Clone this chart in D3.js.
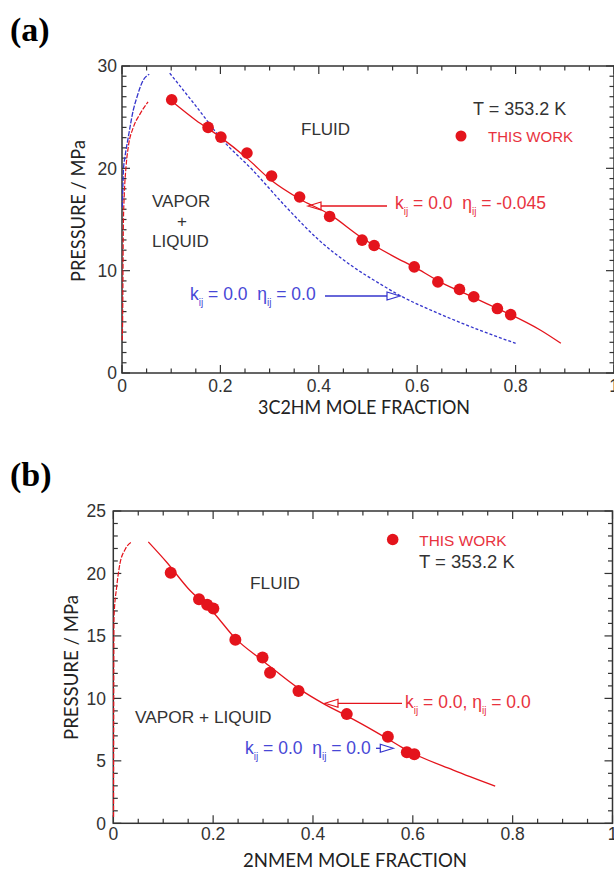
<!DOCTYPE html>
<html>
<head>
<meta charset="utf-8">
<script src="https://cdn.jsdelivr.net/npm/d3@7"></script>
<style>
  html, body { margin: 0; padding: 0; background: #fff; }
  svg { display: block; }
  text { white-space: pre; }
</style>
</head>
<body>
<svg id="chart" width="614" height="870"></svg>
<script>
// ---------- DATA ----------
const xTickValues = [0, 0.2, 0.4, 0.6, 0.8, 1];
const xTickLabels = ["0", "0.2", "0.4", "0.6", "0.8", "1"];
const yTicksA = [0, 10, 20, 30];
const yTicksB = [0, 5, 10, 15, 20, 25];

// Panel (a): 3C2HM, T = 353.2 K
const expA_x = [0.101, 0.175, 0.201, 0.254, 0.304, 0.361, 0.422, 0.488, 0.5125, 0.594, 0.642, 0.686, 0.715, 0.763, 0.790];
const expA_p = [26.7, 24.0, 23.05, 21.5, 19.25, 17.2, 15.3, 12.98, 12.46, 10.37, 8.9, 8.17, 7.45, 6.3, 5.7];

// red model (eta = -0.045), dew and bubble branches
const redA_dew_x = [0.0005, 0.0013, 0.0027, 0.0047, 0.0081, 0.0128, 0.023, 0.0365, 0.053];
const redA_dew_p = [3.2, 5.2, 14.3, 17.5, 20.1, 22.1, 24.0, 25.3, 26.5];
const redA_bub_x = [0.1, 0.15, 0.2, 0.256, 0.304, 0.361, 0.422, 0.488, 0.55, 0.6, 0.65, 0.7, 0.763, 0.79, 0.85, 0.892];
const redA_bub_p = [26.6, 24.7, 23.05, 20.9, 18.8, 17.0, 15.5, 13.2, 11.45, 10.2, 8.8, 7.7, 6.3, 5.7, 4.2, 2.9];

// blue model (eta = 0.0)
const blueA_dew_x = [0.0008, 0.003, 0.006, 0.0128, 0.023, 0.03, 0.043, 0.0554];
const blueA_dew_p = [16.2, 19.9, 21.1, 23.05, 25.7, 26.9, 28.6, 29.2];
const blueA_bub_x = [0.097, 0.15, 0.2, 0.266, 0.334, 0.40, 0.469, 0.523, 0.564, 0.659, 0.726, 0.80];
const blueA_bub_p = [29.3, 26.1, 23.0, 19.8, 16.2, 13.0, 10.4, 8.75, 7.6, 5.5, 4.2, 2.9];

// Panel (b): 2NMEM, T = 353.2 K
const expB_x = [0.115, 0.1717, 0.188, 0.2004, 0.2445, 0.299, 0.314, 0.371, 0.4677, 0.55, 0.588, 0.603];
const expB_p = [20.05, 17.94, 17.5, 17.2, 14.7, 13.28, 12.05, 10.6, 8.74, 6.93, 5.68, 5.52];

const redB_dew_x = [0.0005, 0.001, 0.0014, 0.0067, 0.0134, 0.0234, 0.0369];
const redB_dew_p = [0.5, 12.5, 16.5, 18.9, 20.8, 21.9, 22.53];
const redB_bub_x = [0.0701, 0.107, 0.15, 0.2, 0.2445, 0.3, 0.3747, 0.42, 0.4677, 0.5, 0.55, 0.588, 0.681, 0.765];
const redB_bub_p = [22.53, 20.9, 18.8, 16.9, 14.8, 13.0, 10.7, 9.6, 8.6, 7.9, 6.75, 5.85, 4.26, 2.98];

// ---------- STYLE ----------
const RED = "#e4141c", RED_TXT = "#e8323e", BLUE = "#3434cc", BLUE_TXT = "#4747d6";
const INK = "#333", SANS = "'Liberation Sans', Arial, sans-serif", TITLE = "Lato, 'Open Sans', sans-serif";

const svg = d3.select("#chart");
const zip = (xs, ys) => xs.map((x, i) => [x, ys[i]]);

function panel(cfg) {
  const g = svg.append("g");
  const x = d3.scaleLinear().domain([0, 1]).range(cfg.xr);
  const y = d3.scaleLinear().domain(cfg.yd).range(cfg.yr);
  const [x0, x1] = cfg.xr, [y0, y1] = cfg.yr; // y0 bottom, y1 top

  // minor / major ticks inward on all sides
  const xMinor = d3.range(0, 1.0001, 0.05);
  const yMinor = d3.range(cfg.yd[0], cfg.yd[1] + 0.001, 1);
  const ticks = g.append("g").attr("stroke", INK).attr("stroke-width", 1.2);
  xMinor.forEach(v => {
    const major = xTickValues.some(t => Math.abs(t - v) < 1e-6);
    const L = major ? 8 : 4.5;
    ticks.append("line").attr("x1", x(v)).attr("x2", x(v)).attr("y1", y0).attr("y2", y0 - L);
    ticks.append("line").attr("x1", x(v)).attr("x2", x(v)).attr("y1", y1).attr("y2", y1 + L);
  });
  yMinor.forEach(v => {
    const major = cfg.yTicks.includes(Math.round(v));
    const L = major ? 8 : 4.5;
    ticks.append("line").attr("y1", y(v)).attr("y2", y(v)).attr("x1", x0).attr("x2", x0 + L);
    ticks.append("line").attr("y1", y(v)).attr("y2", y(v)).attr("x1", x1).attr("x2", x1 - L);
  });
  g.append("rect").attr("x", x0).attr("y", y1).attr("width", x1 - x0).attr("height", y0 - y1)
    .attr("fill", "none").attr("stroke", INK).attr("stroke-width", 1.5);

  // tick labels
  g.append("g").selectAll("text").data(xTickValues).join("text")
    .attr("x", d => x(d)).attr("y", cfg.xLabBase).attr("text-anchor", "middle")
    .attr("font-family", SANS).attr("font-size", 17.5).attr("fill", INK)
    .text((d, i) => xTickLabels[i]);
  g.append("g").selectAll("text").data(cfg.yTicks).join("text")
    .attr("x", cfg.yLabRight).attr("y", d => y(d)).attr("dy", "0.36em").attr("text-anchor", "end")
    .attr("font-family", SANS).attr("font-size", 17.5).attr("fill", INK)
    .text(d => d);

  // axis titles
  g.append("text").attr("x", cfg.xTitle[0]).attr("y", cfg.xTitle[1]).attr("text-anchor", "middle")
    .attr("font-family", TITLE).attr("font-size", 19).attr("fill", "#222")
    .attr("textLength", cfg.xTitle[2]).attr("lengthAdjust", "spacingAndGlyphs").text(cfg.xTitleText);
  g.append("text").attr("transform", `translate(${cfg.yTitle[0]},${cfg.yTitle[1]}) rotate(-90)`)
    .attr("text-anchor", "middle").attr("font-family", TITLE).attr("font-size", 19.5).attr("fill", "#222")
    .attr("textLength", cfg.yTitle[2]).attr("lengthAdjust", "spacingAndGlyphs").text("PRESSURE / MPa");

  // curves
  const line = d3.line().x(d => x(d[0])).y(d => y(d[1])).curve(d3.curveMonotoneX);
  cfg.curves.forEach(c => {
    g.append("path").attr("d", line(c.data)).attr("fill", "none").attr("stroke", c.color)
      .attr("stroke-width", c.w || 1.3).attr("stroke-dasharray", c.dash || null);
  });

  // experimental points
  g.append("g").selectAll("circle").data(cfg.points).join("circle")
    .attr("cx", d => x(d[0])).attr("cy", d => y(d[1])).attr("r", cfg.r).attr("fill", RED);

  return { g, x, y };
}

function label(g, txt, xp, yp, opt = {}) {
  return g.append("text").attr("x", xp).attr("y", yp).attr("font-family", opt.family || SANS)
    .attr("font-size", opt.size || 17).attr("fill", opt.fill || INK)
    .attr("font-weight", opt.weight || null).attr("text-anchor", opt.anchor || "start").text(txt);
}

// text like "k_ij = 0.0  η_ij = 0.0"
function kEta(g, xp, yp, mid, tail, color) {
  const t = g.append("text").attr("x", xp).attr("y", yp).attr("font-family", SANS)
    .attr("font-size", 17.5).attr("fill", color);
  t.append("tspan").text("k");
  t.append("tspan").attr("font-size", 10).attr("dy", 6).text("ij");
  t.append("tspan").attr("dy", -6).text(mid + "η");
  t.append("tspan").attr("font-size", 10).attr("dy", 6).text("ij");
  t.append("tspan").attr("dy", -6).text(tail);
}

function arrow(g, xFrom, xTip, yy, color) {
  const dir = Math.sign(xTip - xFrom);
  const hl = 13, hw = 4;
  g.append("line").attr("x1", xFrom).attr("x2", xTip - dir * hl).attr("y1", yy).attr("y2", yy)
    .attr("stroke", color).attr("stroke-width", 1.3);
  g.append("path").attr("d", `M${xTip},${yy} L${xTip - dir * hl},${yy - hw} L${xTip - dir * hl},${yy + hw} Z`)
    .attr("fill", "none").attr("stroke", color).attr("stroke-width", 1.2);
}

// ---------- PANEL (a) ----------
const A = panel({
  xr: [122, 614], yd: [0, 30], yr: [373, 66], yTicks: yTicksA,
  xLabBase: 391.5, yLabRight: 117,
  xTitle: [364, 413.5, 212], xTitleText: "3C2HM MOLE FRACTION",
  yTitle: [85, 211, 142],
  r: 5.8,
  points: zip(expA_x, expA_p),
  curves: [
    { data: zip(blueA_dew_x, blueA_dew_p), color: BLUE, dash: "5,1.5", w: 1.3 },
    { data: zip(blueA_bub_x, blueA_bub_p), color: BLUE, dash: "3,2", w: 1.3 },
    { data: zip(redA_dew_x, redA_dew_p), color: RED, dash: "5,1.5", w: 1.2 },
    { data: zip(redA_bub_x, redA_bub_p), color: RED, w: 1.3 }
  ]
});
label(svg, "(a)", 10, 41, { family: "'Liberation Serif', 'Times New Roman', serif", size: 34, weight: "bold", fill: "#000" });
label(A.g, "T = 353.2 K", 473, 115, { size: 18 });
A.g.append("circle").attr("cx", 461).attr("cy", 136).attr("r", 5.5).attr("fill", RED);
label(A.g, "THIS WORK", 488, 141.5, { size: 15, fill: RED_TXT });
label(A.g, "FLUID", 301, 135, { size: 17 });
label(A.g, "VAPOR", 152, 206.5, { size: 17 });
label(A.g, "+", 182, 227, { size: 17, anchor: "middle" });
label(A.g, "LIQUID", 152, 246.5, { size: 17 });
kEta(A.g, 395, 209, " = 0.0  ", " = -0.045", RED_TXT);
arrow(A.g, 387, 308, 206, RED);
kEta(A.g, 190, 300, " = 0.0  ", " = 0.0", BLUE_TXT);
arrow(A.g, 325, 400, 296, BLUE);

// ---------- PANEL (b) ----------
const B = panel({
  xr: [113.3, 612.5], yd: [0, 25], yr: [823.3, 511], yTicks: yTicksB,
  xLabBase: 840, yLabRight: 106,
  xTitle: [355, 866.5, 224], xTitleText: "2NMEM MOLE FRACTION",
  yTitle: [78.3, 667.5, 145],
  r: 6,
  points: zip(expB_x, expB_p),
  curves: [
    { data: zip(redB_dew_x, redB_dew_p), color: RED, dash: "5,1.5", w: 1.2 },
    { data: zip(redB_bub_x, redB_bub_p), color: RED, w: 1.3 }
  ]
});
label(svg, "(b)", 10, 486, { family: "'Liberation Serif', 'Times New Roman', serif", size: 34, weight: "bold", fill: "#000" });
B.g.append("circle").attr("cx", 392.7).attr("cy", 539.5).attr("r", 5.8).attr("fill", RED);
label(B.g, "THIS WORK", 419.3, 546, { size: 15.4, fill: RED_TXT });
label(B.g, "T = 353.2 K", 419, 567.5, { size: 18.5 });
label(B.g, "FLUID", 250, 589.3, { size: 17.3 });
label(B.g, "VAPOR + LIQUID", 135, 723, { size: 17.3 });
kEta(B.g, 405, 708.3, " = 0.0, ", " = 0.0", RED_TXT);
arrow(B.g, 402, 325, 703.3, RED);
kEta(B.g, 245, 754, " = 0.0  ", " = 0.0", BLUE_TXT);
arrow(B.g, 376, 393.3, 748.3, BLUE);
</script>
</body>
</html>
